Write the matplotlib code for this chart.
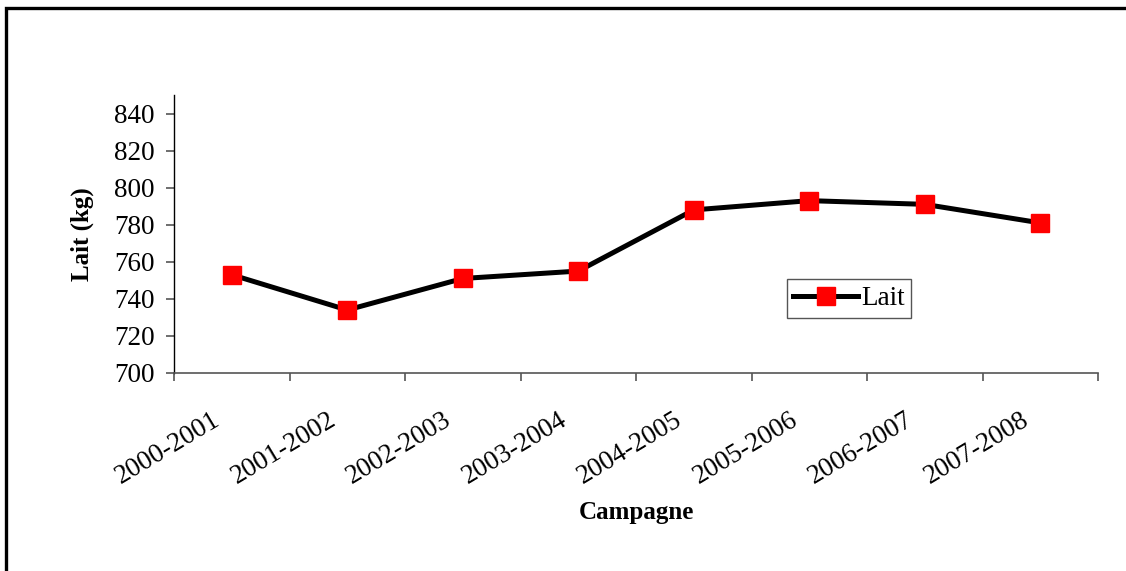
import matplotlib.pyplot as plt
from matplotlib.patches import Rectangle
from matplotlib.transforms import ScaledTranslation

plt.rcParams['font.family'] = ['Liberation Serif', 'DejaVu Serif']

campagnes = ['2000-2001', '2001-2002', '2002-2003', '2003-2004',
             '2004-2005', '2005-2006', '2006-2007', '2007-2008']
lait = [753, 734, 751, 755, 788, 793, 791, 781]

fig = plt.figure(figsize=(11.26, 5.71), dpi=100, facecolor='white')
ax = fig.add_axes([174/1126, 1 - 373/571, 924/1126, 278/571])

x = list(range(len(campagnes)))
ax.plot(x, lait, '-', color='black', linewidth=3.6, marker='s',
        markersize=13, markerfacecolor='red', markeredgecolor='red', label='Lait')

ax.set_xlim(-0.5, len(campagnes) - 0.5)
ax.set_ylim(700, 850)
ax.set_yticks(range(700, 841, 20))
ax.set_xticks(x)
ax.set_xticklabels(campagnes, rotation=31, ha='right', va='top',
                   rotation_mode='anchor', fontsize=19.5)
ax.set_xticks([i - 0.5 for i in range(len(campagnes) + 1)], minor=True)
ax.tick_params(axis='x', which='major', length=0, pad=25)
ax.tick_params(axis='x', which='minor', length=6, width=1.2, color='#555555', direction='out')
ax.tick_params(axis='y', length=6, width=1.2, color='#555555', labelsize=19.5, pad=8)

# décaler les étiquettes vers la gauche (après tick_params, qui remet les transforms)
decal = ScaledTranslation(-20/100, 0, fig.dpi_scale_trans)
for lab in ax.get_xticklabels():
    lab.set_transform(lab.get_transform() + decal)

for s in ['top', 'right']:
    ax.spines[s].set_visible(False)
ax.spines['bottom'].set_color('#555555')
ax.spines['bottom'].set_linewidth(1.2)
ax.spines['left'].set_color('black')
ax.spines['left'].set_linewidth(1.0)

ax.set_ylabel('Lait (kg)', fontsize=18, fontweight='bold', labelpad=14)
fig.text(636/1126, 1 - 512/571, 'Campagne', fontsize=18, fontweight='bold',
         ha='center', va='center')

leg = ax.legend(loc='lower left', bbox_to_anchor=(0.663, 0.198), borderaxespad=0,
                fontsize=19.5, fancybox=False, framealpha=1, handlelength=2.4,
                handletextpad=0.1, borderpad=0.25)
leg.get_frame().set_edgecolor('#555555')
leg.get_frame().set_linewidth(1.0)

# cadre de la figure
fig.patches.append(Rectangle((5.5/1126, -0.1), 1.2, 1.1 - 8/571,
                             transform=fig.transFigure, fill=False,
                             edgecolor='black', linewidth=2.4))

fig.savefig('out.png', dpi=100, facecolor='white')
